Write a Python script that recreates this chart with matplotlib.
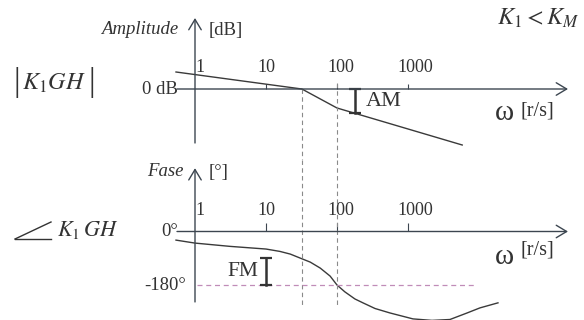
import matplotlib as mpl
import matplotlib.pyplot as plt
import matplotlib.transforms as mtransforms
from matplotlib.lines import Line2D

mpl.rcParams['font.family'] = ['Liberation Serif', 'DejaVu Serif']
mpl.rcParams['mathtext.fontset'] = 'stix'

##### data #####
# amplitude of |K1 GH| in dB
amp_omega = [0.54, 32, 100, 5800]
amp_db = [17, 0, -19, -56]

# phase of K1 GH in degrees
phase_omega = [0.54, 1, 3.1, 10, 15.7, 22, 30, 42, 58, 80, 100, 129, 179,
               232, 343, 557, 1175, 2180, 3900, 6800, 10300, 18500]
phase_deg = [-29, -39, -50, -59, -67, -76, -89, -103, -123, -150, -180, -203,
             -227, -240, -259, -274, -294, -299, -296, -274, -257, -240]

tick_omega = [1, 10, 100, 1000]
tick_labels = ['1', '10', '100', '1000']

w_cross = 32     # |K1 GH| = 0 dB
w_180 = 100      # phase = -180
am_omega = 180
am_db = -24      # gain margin bar
fm_omega = 10
fm_top = -89     # phase at w_cross
####################################

W, H = 584, 320
decade = 71.0
x0 = 195.0  # pixel column of omega = 1

axc = '#3c4650'
curve_c = '#3a3a3a'
txt_c = '#333333'
dash_c = '#8a8a8a'


def px(x, y):
    return x / W, 1 - y / H


fig = plt.figure(figsize=(W / 100, H / 100), dpi=100)
xlim = (10 ** (-x0 / decade), 10 ** ((W - x0) / decade))

ax_a = fig.add_axes([0, 0.5, 1, 0.5])
ax_p = fig.add_axes([0, 0, 1, 0.5])
for ax in (ax_a, ax_p):
    ax.set_xscale('log')
    ax.set_xlim(*xlim)
    ax.axis('off')
ax_a.set_ylim(-71, 89)
ax_p.set_ylim(-297.7, 240.5)

w_start = 10 ** ((177 - x0) / decade)
w_end = 10 ** ((568 - x0) / decade)
arrow_props = dict(arrowstyle='->,head_length=0.5,head_width=0.3', lw=1.0,
                   color=axc, shrinkA=0, shrinkB=0, mutation_scale=15)

# --- amplitude panel ---
ax_a.annotate('', xy=(w_end, 0), xytext=(w_start, 0), arrowprops=arrow_props)
ax_a.annotate('', xy=(1, 71), xytext=(1, -54), arrowprops=arrow_props)
ax_a.vlines(tick_omega[1:], 0, 5, color=axc, lw=0.8)
ax_a.plot(amp_omega, amp_db, color=curve_c, lw=1.0)
ax_a.plot([w_cross, w_cross], [0, -71], color=dash_c, lw=0.8, dashes=(4, 3))
ax_a.plot([w_180, w_180], [6, -71], color=dash_c, lw=0.8, dashes=(4, 3))
ax_a.plot([am_omega, am_omega], [0, am_db], color='#333333', lw=1.8,
          marker='_', ms=9, mew=1.6)

# --- phase panel ---
ax_p.annotate('', xy=(w_end, 0), xytext=(w_start, 0), arrowprops=arrow_props)
ax_p.annotate('', xy=(1, 213), xytext=(1, -237), arrowprops=arrow_props)
ax_p.vlines(tick_omega[1:], 0, 27, color=axc, lw=0.8)
ax_p.plot(phase_omega, phase_deg, color=curve_c, lw=1.0)
ax_p.plot([w_cross, w_cross], [240.5, -247], color=dash_c, lw=0.8, dashes=(4, 3))
ax_p.plot([w_180, w_180], [240.5, -247], color=dash_c, lw=0.8, dashes=(4, 3))
ax_p.plot([1.07, 9400], [-180, -180], color='#c08cb8', lw=0.9, dashes=(4, 3))
ax_p.plot([fm_omega, fm_omega], [fm_top, -180], color='#333333', lw=1.8,
          marker='_', ms=9, mew=1.6)

# tick labels
offsets = [5, 0, 4, 7]
for w, lab, off in zip(tick_omega, tick_labels, offsets):
    for ax, yv in ((ax_a, 21), (ax_p, 72)):
        tr = mtransforms.offset_copy(ax.transData, fig=fig, x=off * 0.72, y=0, units='points')
        ax.text(w, yv, lab, transform=tr, ha='center', va='center', fontsize=13, color=txt_c)

# --- labels ---
def ftext(x, y, s, **kw):
    kw.setdefault('color', txt_c)
    kw.setdefault('va', 'center')
    fig.text(*px(x, y), s, **kw)


ftext(178, 30, 'Amplitude', ha='right', fontsize=13.5, style='italic')
ftext(209, 30, '[dB]', ha='left', fontsize=13.5)
ftext(579, 18, r'$K_1 < K_M$', ha='right', fontsize=17.5)
ftext(17, 82, '|', ha='center', fontsize=24)
ftext(92, 82, '|', ha='center', fontsize=24)
ftext(22, 83, r'$K_1GH$', ha='left', fontsize=17.5)
ftext(178, 89, '0 dB', ha='right', fontsize=13.5)
ftext(366, 101, 'AM', ha='left', fontsize=16)
ftext(495, 113, 'ω', ha='left', fontsize=21)
ftext(520, 111, '[r/s]', ha='left', fontsize=14.5)

ftext(184, 172, 'Fase', ha='right', fontsize=13.5, style='italic')
ftext(209, 172, '[°]', ha='left', fontsize=13.5)
ftext(57, 230, r'$K_1\,GH$', ha='left', fontsize=16)
ftext(178, 232, '0°', ha='right', fontsize=13.5)
ftext(186, 285, '-180°', ha='right', fontsize=13.5)
ftext(258, 272, 'FM', ha='right', fontsize=15.5)
ftext(495, 257, 'ω', ha='left', fontsize=21)
ftext(521, 250, '[r/s]', ha='left', fontsize=14.5)

# angle sign in front of K1 GH
for xe, ye in ((51, 239), (51, 222)):
    (xa, ya), (xb, yb) = px(15, 239), px(xe, ye)
    fig.add_artist(Line2D([xa, xb], [ya, yb], transform=fig.transFigure,
                          color=txt_c, lw=1.0))

fig.savefig('out.png', dpi=100)
